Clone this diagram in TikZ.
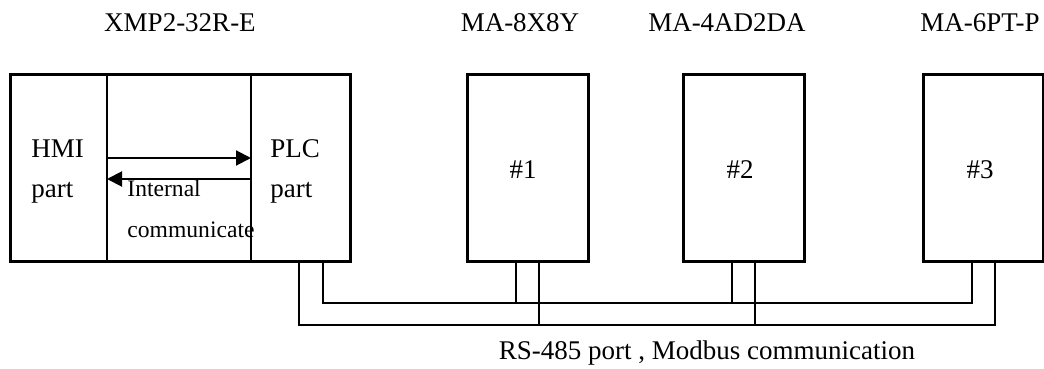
\documentclass[tikz,border=0pt]{standalone}
\usepackage{fontspec}
\setmainfont{Liberation Serif}
\usetikzlibrary{arrows.meta}
\begin{document}
\begin{tikzpicture}[x=0.5pt,y=-0.5pt,
  unitbox/.style={draw,line width=1.5pt,rectangle,inner sep=0pt,minimum height=93pt},
  thin/.style={line width=0.75pt},
  lbl/.style={font=\fontsize{13.5}{16}\selectfont,inner sep=0pt},
  small/.style={font=\fontsize{11.8}{14}\selectfont,inner sep=0pt},
  comm/.style={line width=1pt,-{Triangle[length=7.5pt,width=7.5pt]}}]
\useasboundingbox (0,0) rectangle (1044,369);
% boxes
\node[unitbox,minimum width=170pt] (main) at (180,168) {};
\node[unitbox,minimum width=60.5pt] (u1) at (527.5,168) {};
\node[unitbox,minimum width=60.5pt] (u2) at (743.5,168) {};
\node[unitbox,minimum width=60pt] (u3) at (983,168) {};
% dividers
\coordinate (d1t) at (107,75); \coordinate (d1b) at (107,261);
\coordinate (d2t) at (251,75); \coordinate (d2b) at (251,261);
\draw[thin] (d1t) -- (d1b);
\draw[thin] (d2t) -- (d2b);
% internal arrows
\coordinate (a1s) at (107,158); \coordinate (a1e) at (251,158);
\coordinate (a2s) at (251,179); \coordinate (a2e) at (107,179);
\draw[comm] (a1s) -- (a1e);
\draw[comm] (a2s) -- (a2e);
% titles
\node[lbl,anchor=base] (t0) at (180,32) {XMP2-32R-E};
\node[lbl,anchor=base] (t1) at (520,32) {MA-8X8Y};
\node[lbl,anchor=base] (t2) at (727,32) {MA-4AD2DA};
\node[lbl,anchor=base] (t3) at (980,32) {MA-6PT-P};
% inner labels
\node[lbl,anchor=base west] (hmi) at (31,157) {HMI};
\node[lbl,anchor=base west] (hmip) at (31,198) {part};
\node[lbl,anchor=base west] (plc) at (270,157) {PLC};
\node[lbl,anchor=base west] (plcp) at (270,198) {part};
\node[small,anchor=base west] (int) at (127,197) {Internal};
\node[small,anchor=base west] (comt) at (127,237) {communicate};
\node[lbl,anchor=base] (n1) at (523,178) {\#1};
\node[lbl,anchor=base] (n2) at (740,178) {\#2};
\node[lbl,anchor=base] (n3) at (980,178) {\#3};
\node[lbl,anchor=base] (bus) at (707,359) {RS-485 port , Modbus communication};
% bus wiring
\coordinate (pA) at (299,261); \coordinate (pB) at (323,261);
\coordinate (b1A) at (516,261); \coordinate (b1B) at (539,261);
\coordinate (b2A) at (732,261); \coordinate (b2B) at (755,261);
\coordinate (b3A) at (972,262); \coordinate (b3B) at (995,262);
\draw[thin] (pB) |- (b3A |- 0,303) -- (b3A);
\draw[thin] (pA) |- (b3B |- 0,325) -- (b3B);
\draw[thin] (b1A) -- (b1A |- 0,303);
\draw[thin] (b1B) -- (b1B |- 0,325);
\draw[thin] (b2A) -- (b2A |- 0,303);
\draw[thin] (b2B) -- (b2B |- 0,325);
\end{tikzpicture}
\end{document}
